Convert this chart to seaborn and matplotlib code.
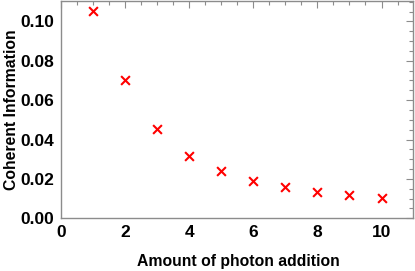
import numpy as np
import pandas as pd
import matplotlib
matplotlib.use("Agg")
import matplotlib.pyplot as plt
import seaborn as sns
from matplotlib.ticker import MultipleLocator

# data
photons = [1, 2, 3, 4, 5, 6, 7, 8, 9, 10]
coherent_info = [0.1053, 0.0700, 0.0455, 0.0315, 0.0239, 0.0190, 0.0157, 0.0135, 0.0116, 0.0101]

df = pd.DataFrame({"photons": photons, "ci": coherent_info})

sns.set_style("white")
plt.rcParams["font.family"] = ["Liberation Sans", "DejaVu Sans"]
plt.rcParams["font.weight"] = "bold"

fig = plt.figure(figsize=(4.15, 2.71), dpi=100)
ax = fig.add_axes([0.147, 0.1945, 0.848, 0.803])

sns.scatterplot(data=df, x="photons", y="ci", marker="x", color="red",
                s=40, linewidth=1.5, ax=ax, legend=False)

ax.set_xlim(0, 10.98)
ax.set_ylim(0, 0.1105)
ax.xaxis.set_major_locator(MultipleLocator(2))
ax.xaxis.set_minor_locator(MultipleLocator(0.5))
ax.yaxis.set_major_locator(MultipleLocator(0.02))
ax.yaxis.set_minor_locator(MultipleLocator(0.005))
ax.yaxis.set_major_formatter(matplotlib.ticker.FormatStrFormatter("%.2f"))

gray = "#8c8c8c"
for s in ax.spines.values():
    s.set_color(gray)
    s.set_linewidth(1.0)
ax.tick_params(which="both", direction="in", top=True, right=True, color=gray,
               labelsize=12.5, labelcolor="black", width=0.8)
ax.tick_params(which="major", length=5, pad=5)
ax.tick_params(which="minor", length=3)
for lab in ax.get_xticklabels() + ax.get_yticklabels():
    lab.set_fontweight("bold")

ax.set_xlabel("Amount of photon addition", fontsize=11.3, fontweight="bold",
              va="center", color="black")
ax.set_ylabel("Coherent Information", fontsize=11.3, fontweight="bold",
              va="center", color="black")
ax.xaxis.set_label_coords(0.504, -0.2)
ax.yaxis.set_label_coords(-0.142, 0.5)

fig.savefig("out.png", dpi=100)
